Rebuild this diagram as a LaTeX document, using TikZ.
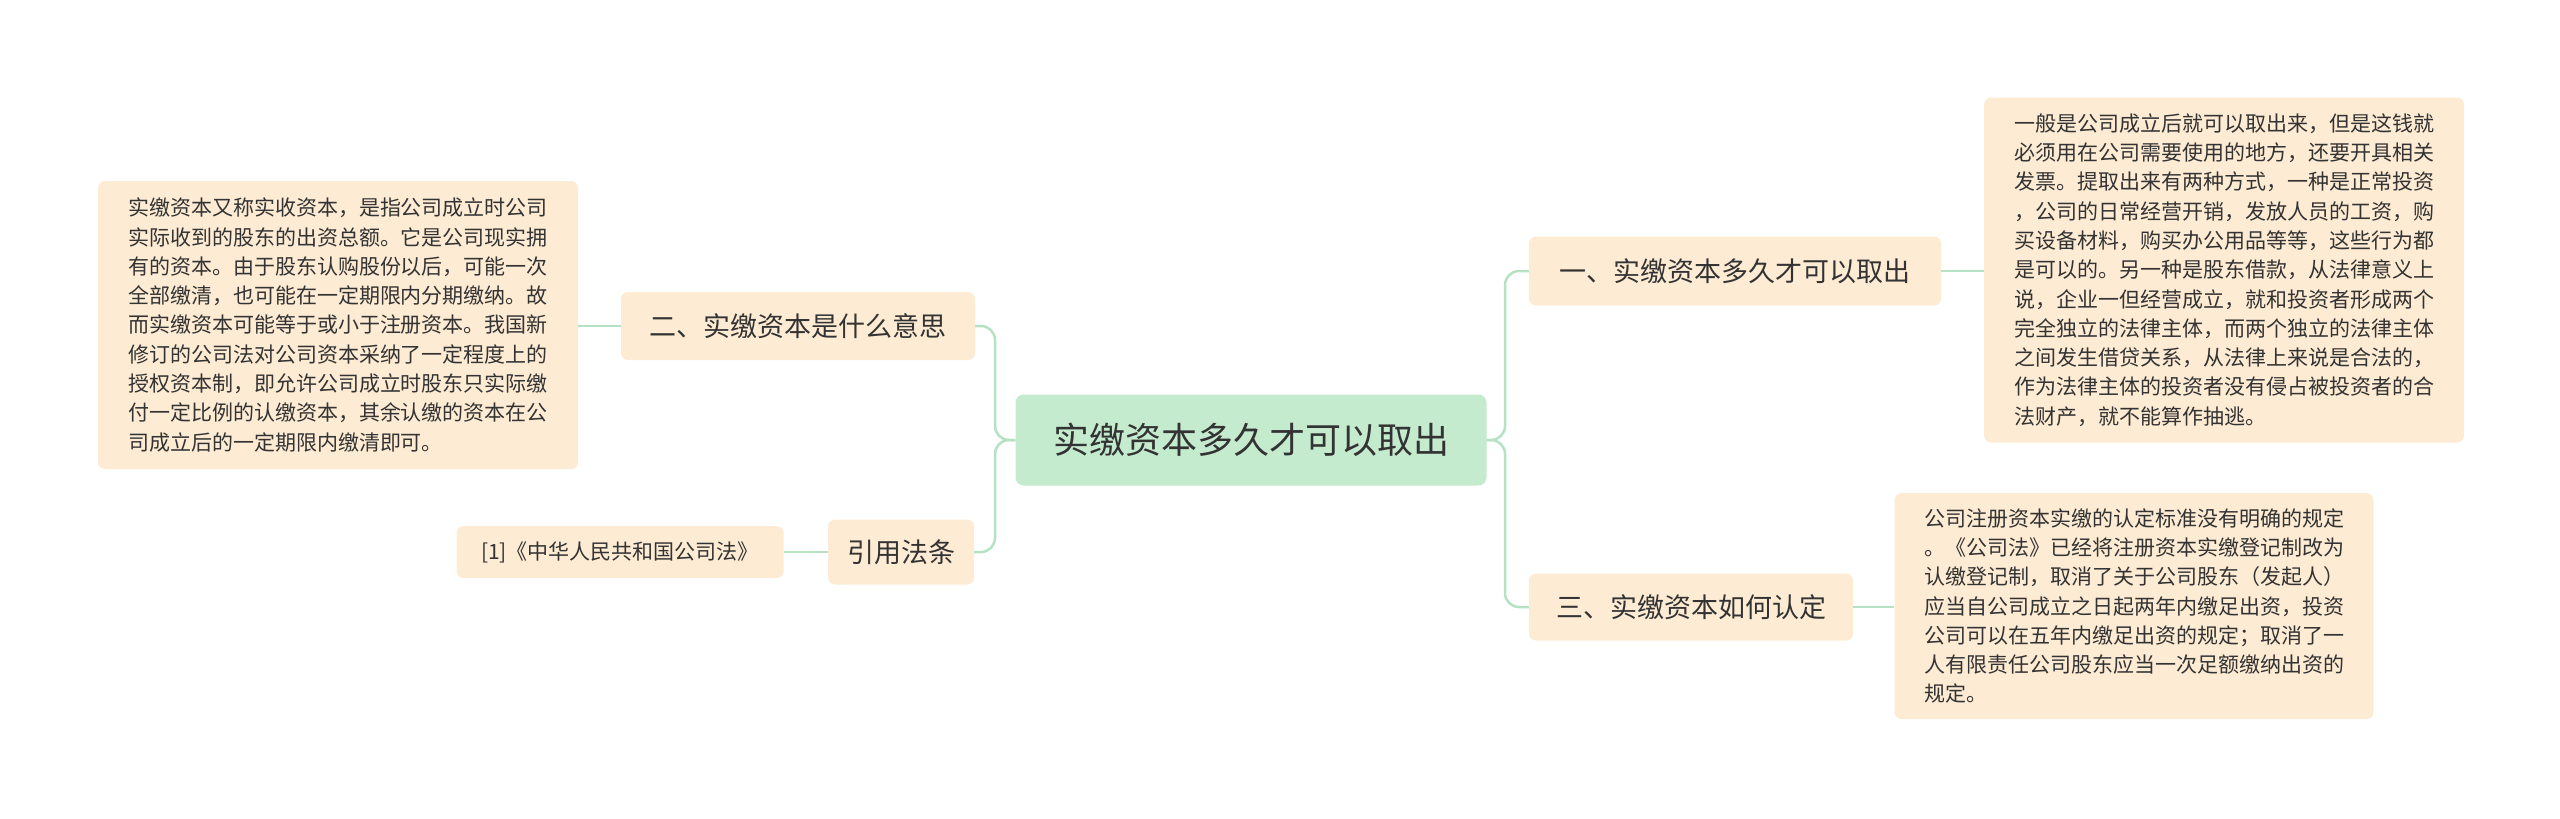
\documentclass[tikz,border=0pt]{standalone}
\usepackage{fontspec}
\newfontfamily\cjk{Noto Sans CJK SC}
\begin{document}
\begin{tikzpicture}[x=1pt,y=-1pt,
  root/.style={fill=rootc,rounded corners=8pt,minimum width=471pt,minimum height=91pt,font=\cjk\fontsize{36}{40}\selectfont,text=txt},
  branch/.style={fill=peach,rounded corners=7pt,inner sep=0pt,font=\cjk\fontsize{27}{32}\selectfont,text=txt},
  leaf/.style={fill=peach,rounded corners=7pt,inner sep=0pt,font=\cjk\fontsize{21}{29.3}\selectfont,text=txt,align=left},
  conn/.style={draw=linec,line width=2.5pt,rounded corners=14pt}]
\definecolor{rootc}{HTML}{C5EBCF}
\definecolor{peach}{HTML}{FDEBD3}
\definecolor{linec}{HTML}{B5E2C2}
\definecolor{txt}{HTML}{333333}
\useasboundingbox (0,0) rectangle (2560,819);
\node[root] (r) at (1251,440) {实缴资本多久才可以取出};
\node[branch,minimum width=354pt,minimum height=68pt] (b2) at (798,326) {二、实缴资本是什么意思};
\node[branch,minimum width=146pt,minimum height=65pt] (b4) at (901,552) {引用法条};
\node[branch,minimum width=412pt,minimum height=69pt] (b1) at (1735,271) {一、实缴资本多久才可以取出};
\node[branch,minimum width=324pt,minimum height=67pt] (b3) at (1691,607) {三、实缴资本如何认定};
\node[leaf,minimum width=480pt,minimum height=288pt] (l2) at (338,325) {实缴资本又称实收资本，是指公司成立时公司\\实际收到的股东的出资总额。它是公司现实拥\\有的资本。由于股东认购股份以后，可能一次\\全部缴清，也可能在一定期限内分期缴纳。故\\而实缴资本可能等于或小于注册资本。我国新\\修订的公司法对公司资本采纳了一定程度上的\\授权资本制，即允许公司成立时股东只实际缴\\付一定比例的认缴资本，其余认缴的资本在公\\司成立后的一定期限内缴清即可。};
\node[leaf,minimum width=327pt,minimum height=52pt] (l4) at (620,552) {[1]《中华人民共和国公司法》};
\node[leaf,minimum width=480pt,minimum height=345pt] (l1) at (2224,270) {一般是公司成立后就可以取出来，但是这钱就\\必须用在公司需要使用的地方，还要开具相关\\发票。提取出来有两种方式，一种是正常投资\\，公司的日常经营开销，发放人员的工资，购\\买设备材料，购买办公用品等等，这些行为都\\是可以的。另一种是股东借款，从法律意义上\\说，企业一但经营成立，就和投资者形成两个\\完全独立的法律主体，而两个独立的法律主体\\之间发生借贷关系，从法律上来说是合法的，\\作为法律主体的投资者没有侵占被投资者的合\\法财产，就不能算作抽逃。};
\node[leaf,minimum width=479pt,minimum height=226pt] (l3) at (2134,606) {公司注册资本实缴的认定标准没有明确的规定\\。《公司法》已经将注册资本实缴登记制改为\\认缴登记制，取消了关于公司股东（发起人）\\应当自公司成立之日起两年内缴足出资，投资\\公司可以在五年内缴足出资的规定；取消了一\\人有限责任公司股东应当一次足额缴纳出资的\\规定。};
\draw[conn] (r.east) -- (1505,440) |- (b1.west);
\draw[conn] (r.east) -- (1505,440) |- (b3.west);
\draw[conn] (r.west) -- (995,440) |- (b2.east);
\draw[conn] (r.west) -- (995,440) |- (b4.east);
\draw[conn] (b1.east) -- (l1.west |- b1.east);
\draw[conn] (b3.east) -- (l3.west |- b3.east);
\draw[conn] (b2.west) -- (l2.east |- b2.west);
\draw[conn] (b4.west) -- (l4.east);
\end{tikzpicture}
\end{document}
